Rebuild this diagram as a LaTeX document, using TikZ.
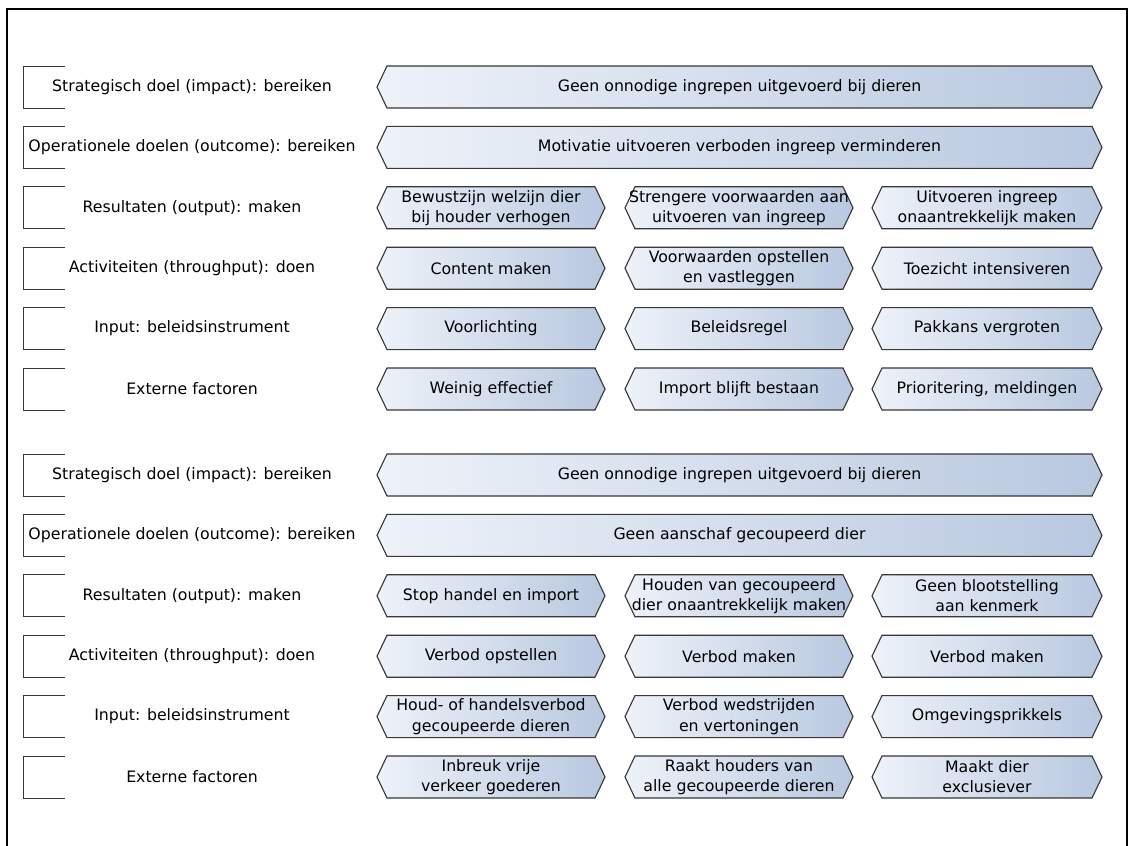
\documentclass[tikz,border=0pt]{standalone}
\usepackage{fontspec}
\setmainfont{DejaVu Sans}
\usepackage{tikz}

\definecolor{hexleft}{HTML}{EEF2F9}
\definecolor{hexright}{HTML}{B8C8E0}
\definecolor{hexedge}{HTML}{383838}

\tikzset{
  hexline/.style={draw=hexedge, line width=0.8pt, left color=hexleft, right color=hexright},
  hextext/.style={font=\fontsize{11.2}{14.3}\selectfont, align=center, inner sep=0pt},
  rowlabel/.style={font=\fontsize{11.2}{14.3}\selectfont, inner sep=0pt},
  bracket/.style={draw=hexedge, line width=0.7pt}
}

% name, left x, right x, centre y, text
\newcommand{\hexbox}[5]{%
  \draw [hexline] (#2,#4) -- (#2+10,#4-21) -- (#3-10,#4-21) -- (#3,#4) -- (#3-10,#4+21) -- (#2+10,#4+21) -- cycle;
  \node [hextext] (#1) at ({(#2+#3)/2},#4) {#5};}

% name, centre y, text
\newcommand{\rowbox}[3]{%
  \draw [bracket] (65,#2-21) -- (23,#2-21) -- (23,#2+21) -- (65,#2+21);
  \node [rowlabel] (#1) at (192,#2) {#3};}

\begin{document}
\begin{tikzpicture}[x=0.025cm, y=-0.025cm]
  \useasboundingbox (0,0) rectangle (1129,846);
  \draw [black, line width=1.4pt] (7,850) -- (7,9) -- (1127,9) -- (1127,850);

  % bovenste blok
  \rowbox{lab1}{87}{Strategisch doel (impact): bereiken}
  \rowbox{lab2}{147.4}{Operationele doelen (outcome): bereiken}
  \rowbox{lab3}{207.8}{Resultaten (output): maken}
  \rowbox{lab4}{268.2}{Activiteiten (throughput): doen}
  \rowbox{lab5}{328.6}{Input: beleidsinstrument}
  \rowbox{lab6}{389}{Externe factoren}

  \hexbox{impact1}{377}{1102}{87}{Geen onnodige ingrepen uitgevoerd bij dieren}
  \hexbox{outcome1}{377}{1102}{147.4}{Motivatie uitvoeren verboden ingreep verminderen}

  \hexbox{outa}{377}{605}{207.8}{Bewustzijn welzijn dier\\bij houder verhogen}
  \hexbox{outb}{625}{853}{207.8}{Strengere voorwaarden aan\\uitvoeren van ingreep}
  \hexbox{outc}{872}{1102}{207.8}{Uitvoeren ingreep\\onaantrekkelijk maken}

  \hexbox{acta}{377}{605}{268.2}{Content maken}
  \hexbox{actb}{625}{853}{268.2}{Voorwaarden opstellen\\en vastleggen}
  \hexbox{actc}{872}{1102}{268.2}{Toezicht intensiveren}

  \hexbox{ina}{377}{605}{328.6}{Voorlichting}
  \hexbox{inb}{625}{853}{328.6}{Beleidsregel}
  \hexbox{inc}{872}{1102}{328.6}{Pakkans vergroten}

  \hexbox{exta}{377}{605}{389}{Weinig effectief}
  \hexbox{extb}{625}{853}{389}{Import blijft bestaan}
  \hexbox{extc}{872}{1102}{389}{Prioritering, meldingen}

  % onderste blok
  \rowbox{lab7}{475}{Strategisch doel (impact): bereiken}
  \rowbox{lab8}{535.4}{Operationele doelen (outcome): bereiken}
  \rowbox{lab9}{595.8}{Resultaten (output): maken}
  \rowbox{lab10}{656.2}{Activiteiten (throughput): doen}
  \rowbox{lab11}{716.6}{Input: beleidsinstrument}
  \rowbox{lab12}{777}{Externe factoren}

  \hexbox{impact2}{377}{1102}{475}{Geen onnodige ingrepen uitgevoerd bij dieren}
  \hexbox{outcome2}{377}{1102}{535.4}{Geen aanschaf gecoupeerd dier}

  \hexbox{outd}{377}{605}{595.8}{Stop handel en import}
  \hexbox{oute}{625}{853}{595.8}{Houden van gecoupeerd\\dier onaantrekkelijk maken}
  \hexbox{outf}{872}{1102}{595.8}{Geen blootstelling\\aan kenmerk}

  \hexbox{actd}{377}{605}{656.2}{Verbod opstellen}
  \hexbox{acte}{625}{853}{656.2}{Verbod maken}
  \hexbox{actf}{872}{1102}{656.2}{Verbod maken}

  \hexbox{ind}{377}{605}{716.6}{Houd- of handelsverbod\\gecoupeerde dieren}
  \hexbox{ine}{625}{853}{716.6}{Verbod wedstrijden\\en vertoningen}
  \hexbox{inf}{872}{1102}{716.6}{Omgevingsprikkels}

  \hexbox{extd}{377}{605}{777}{Inbreuk vrije\\verkeer goederen}
  \hexbox{exte}{625}{853}{777}{Raakt houders van\\alle gecoupeerde dieren}
  \hexbox{extf}{872}{1102}{777}{Maakt dier\\exclusiever}
\end{tikzpicture}
\end{document}
